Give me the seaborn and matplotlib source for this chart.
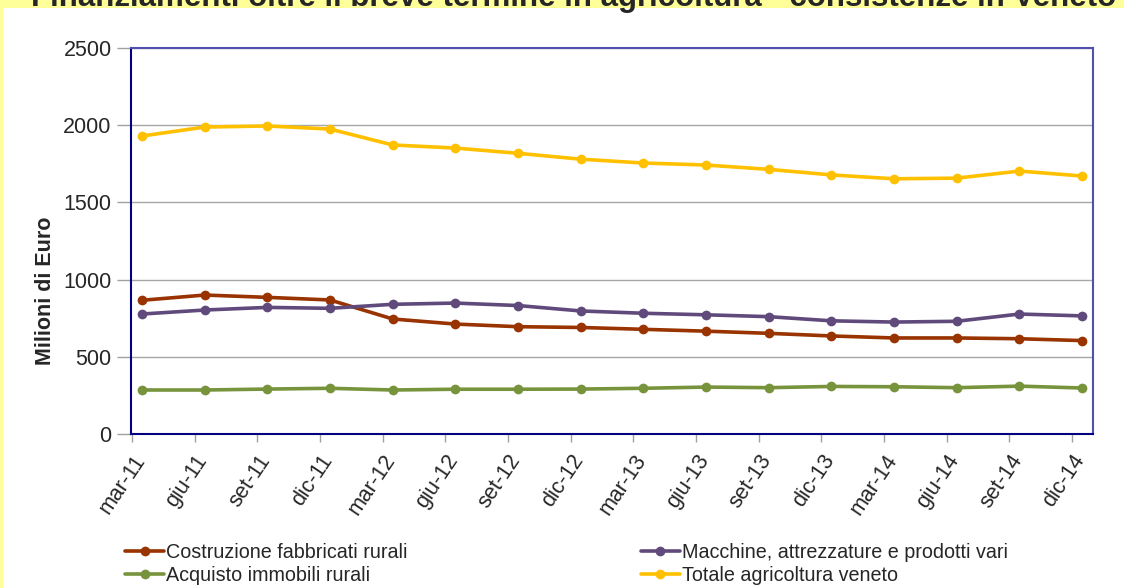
import numpy as np
import pandas as pd
import seaborn as sns
import matplotlib.pyplot as plt
from matplotlib.patches import Rectangle

periodi = ['mar-11', 'giu-11', 'set-11', 'dic-11', 'mar-12', 'giu-12', 'set-12', 'dic-12',
           'mar-13', 'giu-13', 'set-13', 'dic-13', 'mar-14', 'giu-14', 'set-14', 'dic-14']

costruzione = [866, 900, 885, 868, 745, 712, 695, 690, 678, 666, 652, 635, 622, 622, 617, 605]
acquisto = [285, 285, 291, 296, 285, 290, 290, 291, 296, 304, 300, 308, 306, 300, 310, 298]
macchine = [777, 803, 820, 814, 840, 848, 832, 797, 782, 772, 760, 733, 725, 730, 777, 765]
totale = [1930, 1988, 1995, 1975, 1872, 1852, 1818, 1780, 1755, 1742, 1714, 1678, 1653, 1657, 1703, 1671]

serie = [
    ('Costruzione fabbricati rurali', costruzione, '#993300'),
    ('Acquisto immobili rurali', acquisto, '#77933c'),
    ('Macchine, attrezzature e prodotti vari', macchine, '#604a7b'),
    ('Totale agricoltura veneto', totale, '#ffc000'),
]

sns.set_style('white')
plt.rcParams['font.family'] = ['Liberation Sans', 'DejaVu Sans']

fig = plt.figure(figsize=(11.24, 5.88), dpi=100, facecolor='#ffff99')
fig.patches.append(Rectangle((3 / 1124, 0), 1, 1 - 8 / 588, transform=fig.transFigure,
                             facecolor='white', edgecolor='none', zorder=-5))
ax = fig.add_axes([131 / 1124, 1 - 434 / 588, (1093 - 131) / 1124, (434 - 48) / 588])
ax.set_zorder(2)
ax.set_facecolor('white')

pos = np.arange(len(periodi))
for nome, valori, colore in serie:
    sns.lineplot(x=pos, y=valori, ax=ax, color=colore, linewidth=2.6, marker='o',
                 markersize=7, markeredgewidth=0, label=nome, legend=False)

ax.set_xlim(-0.176, len(periodi) - 1 + 0.176)
ax.set_ylim(0, 2500)
ax.set_yticks(range(0, 2501, 500))
ax.set_xticks(pos - 0.16)
ax.set_xticklabels(periodi, rotation=56, ha='right', rotation_mode='anchor')
ax.tick_params(axis='y', left=True, length=10, width=1, color='#a0a0a0', labelsize=15.5, pad=4)
ax.tick_params(axis='x', bottom=True, length=6, width=1, color='#a0a0a0', labelsize=15.5, pad=6)
ax.yaxis.grid(True, color='#a6a6a6', linewidth=1)
ax.set_axisbelow(True)

for lato in ['left', 'bottom']:
    ax.spines[lato].set_color('#000080')
    ax.spines[lato].set_linewidth(1.5)
for lato in ['top', 'right']:
    ax.spines[lato].set_color('#5050b0')
    ax.spines[lato].set_linewidth(1.5)

ax.set_xlabel('')
ax.set_ylabel('Milioni di Euro', fontsize=15.5, fontweight='bold')
ax.yaxis.set_label_coords(-0.078, 0.37)

fig.text(574 / 1124, 1 - 6 / 588,
         'Finanziamenti oltre il breve termine in agricoltura - consistenze in Veneto',
         ha='center', va='baseline', fontsize=22.5, fontweight='bold')

handles, labels = ax.get_legend_handles_labels()
fig.legend(handles, labels, ncol=2, loc='lower left', bbox_to_anchor=(117 / 1124, -0.008),
           frameon=False, fontsize=14.2, handlelength=2.0, handletextpad=0.1,
           columnspacing=11.8, labelspacing=0.2, borderaxespad=0.0)

fig.savefig('out.png', dpi=100, facecolor=fig.get_facecolor())
